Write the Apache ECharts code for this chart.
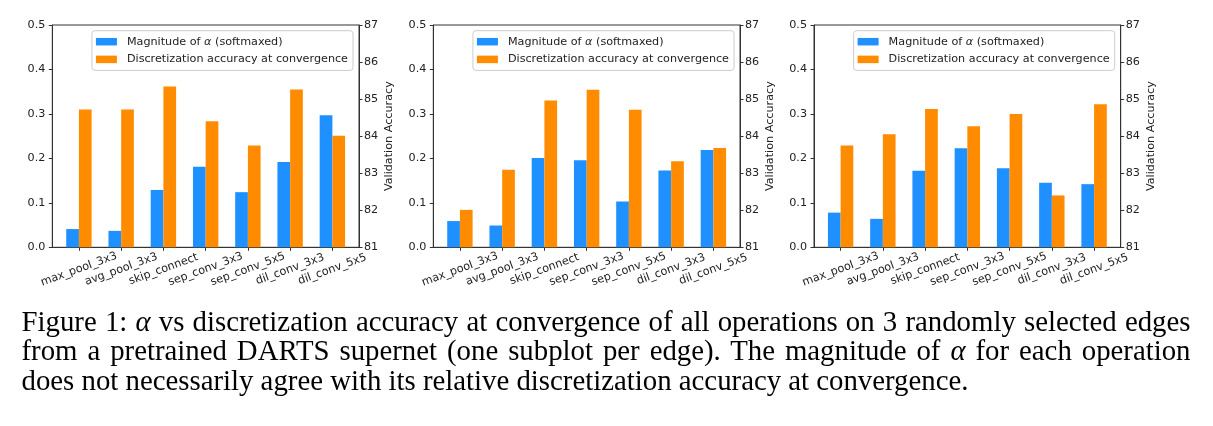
<!DOCTYPE html>
<html>
<head>
<meta charset="utf-8">
<script src="https://cdn.jsdelivr.net/npm/echarts@6/dist/echarts.min.js"></script>
<style>
html,body{margin:0;padding:0;background:#fff;}
#chart{position:absolute;left:0;top:0;width:1213px;height:426px;}
#caption{position:absolute;left:21.5px;top:307px;width:1169px;font-family:"Liberation Serif","DejaVu Serif",serif;font-size:28.8px;line-height:29.3px;color:#000;}
#caption div{white-space:nowrap;}
#caption .j{text-align:justify;text-align-last:justify;white-space:normal;}
</style>
</head>
<body>
<div id="chart"></div>
<div id="caption">
<div class="j">Figure 1: <i>α</i> vs discretization accuracy at convergence of all operations on 3 randomly selected edges</div>
<div class="j">from a pretrained DARTS supernet (one subplot per edge). The magnitude of <i>α</i> for each operation</div>
<div>does not necessarily agree with its relative discretization accuracy at convergence.</div>
</div>
<script>
const categories = ['max_pool_3x3','avg_pool_3x3','skip_connect','sep_conv_3x3','sep_conv_5x5','dil_conv_3x3','dil_conv_5x5'];
const alpha1 = [0.041,0.037,0.129,0.181,0.124,0.192,0.297];
const acc1   = [84.72,84.72,85.34,84.40,83.75,85.26,84.01];
const alpha2 = [0.059,0.049,0.201,0.196,0.103,0.173,0.219];
const acc2   = [82.01,83.09,84.96,85.25,84.71,83.32,83.68];
const alpha3 = [0.078,0.064,0.172,0.223,0.178,0.145,0.142];
const acc3   = [83.75,84.05,84.73,84.27,84.60,82.40,84.86];
const alphaName = 'Magnitude of α (softmaxed)';
const accName = 'Discretization accuracy at convergence';
const rightAxisName = 'Validation Accuracy';
const alphaSets = [alpha1, alpha2, alpha3];
const accSets = [acc1, acc2, acc3];

const gridLefts = [52.3, 433.3, 814];
const gridWidth = 306.7;
const W = 1213;
const FS = 11.2;
const txt = '#222';
const font = 'DejaVu Sans';
const idx = categories.map((c, i) => i);

const option = {
  animation: false,
  textStyle: {fontFamily: font},
  grid: [], xAxis: [], yAxis: [], series: [], legend: []
};

gridLefts.forEach((gl, g) => {
  option.grid.push({left: gl, width: gridWidth, top: 25, height: 222.3, show: true, borderColor: '#333', borderWidth: 1, containLabel: false});
  option.xAxis.push({
    type: 'value', gridIndex: g, min: -0.63, max: 6.63,
    axisLine: {show: true, onZero: false, lineStyle: {color: '#333', width: 1}},
    splitLine: {show: false},
    axisTick: {show: true, length: 3.5, lineStyle: {color: '#333'}, customValues: idx},
    axisLabel: {
      customValues: idx, rotate: 20, align: 'center', verticalAlign: 'middle', margin: 22,
      fontSize: FS, color: txt, fontFamily: font,
      formatter: v => categories[Math.round(v)]
    }
  });
  option.yAxis.push({
    type: 'value', gridIndex: g, position: 'left', min: 0, max: 0.5, interval: 0.1,
    axisLine: {show: true, onZero: false, lineStyle: {color: '#333', width: 1}},
    splitLine: {show: false},
    axisTick: {show: true, length: 3.5, lineStyle: {color: '#333'}},
    axisLabel: {fontSize: FS, color: txt, margin: 7, fontFamily: font, formatter: v => v.toFixed(1)}
  });
  option.yAxis.push({
    type: 'value', gridIndex: g, position: 'right', min: 81, max: 87, interval: 1,
    axisLine: {show: true, onZero: false, lineStyle: {color: '#333', width: 1}},
    splitLine: {show: false},
    axisTick: {show: true, length: 3.5, lineStyle: {color: '#333'}},
    axisLabel: {fontSize: FS, color: txt, margin: 5, fontFamily: font},
    name: rightAxisName, nameLocation: 'middle', nameGap: 25, nameRotate: 90,
    nameTextStyle: {fontSize: FS, color: txt, fontFamily: font}
  });
  option.series.push({
    type: 'bar', name: alphaName, xAxisIndex: g, yAxisIndex: 2 * g,
    barWidth: 12.7, barGap: '0%',
    itemStyle: {color: '#1e90ff'},
    data: alphaSets[g].map((v, i) => [i, v])
  });
  option.series.push({
    type: 'bar', name: accName, xAxisIndex: g, yAxisIndex: 2 * g + 1,
    barWidth: 12.7, barGap: '0%',
    itemStyle: {color: '#ff8c00'},
    data: accSets[g].map((v, i) => [i, v])
  });
  option.legend.push({
    orient: 'vertical', right: W - (gl + gridWidth - 6), top: 30.7,
    data: [alphaName, accName],
    itemWidth: 21, itemHeight: 7.5, itemGap: 4.7,
    icon: 'rect',
    padding: [4.5, 5, 4.5, 4],
    borderColor: '#ccc', borderWidth: 1, borderRadius: 3,
    backgroundColor: 'rgba(255,255,255,0.8)',
    selectedMode: false,
    formatter: n => n.replace('α', '{i|α}'),
    textStyle: {fontSize: FS, color: txt, fontFamily: font, lineHeight: 13, padding: [0, 0, 0, 5],
      rich: {i: {fontStyle: 'italic', fontSize: FS, color: txt, fontFamily: font}}}
  });
});

const chart = echarts.init(document.getElementById('chart'), null, {renderer: 'canvas'});
chart.setOption(option);
</script>
</body>
</html>
